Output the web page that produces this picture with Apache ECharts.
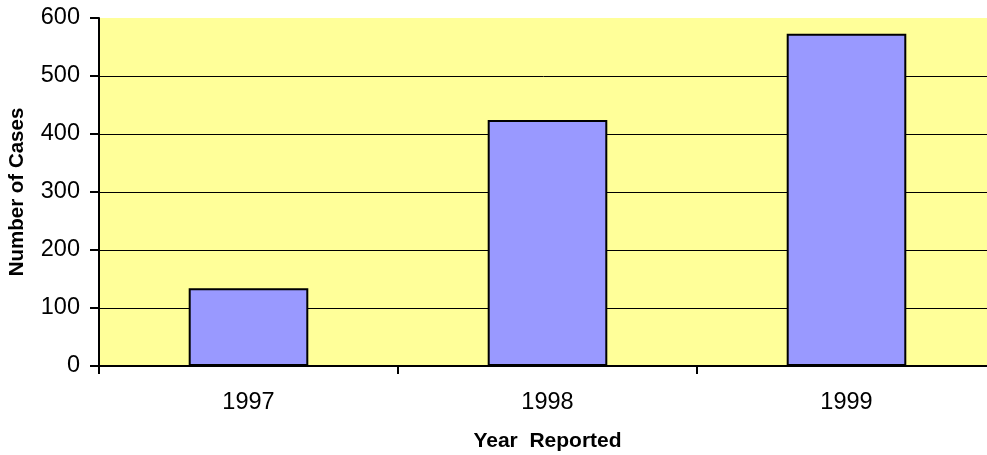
<!DOCTYPE html>
<html>
<head>
<meta charset="utf-8">
<script src="https://cdn.jsdelivr.net/npm/echarts@6/dist/echarts.min.js"></script>
<style>
  html, body { margin: 0; padding: 0; background: #ffffff; }
  #main { width: 987px; height: 455px; }
</style>
</head>
<body>
<div id="main"></div>
<script>
// data
var years = ['1997', '1998', '1999'];
var cases = [134, 424, 573];

var yMin = 0;
var yMax = 600;
var yStep = 100;

function drawChart() {
    var myChart = echarts.init(document.getElementById('main'));

    var option = {
        animation: false,
        textStyle: {
            fontFamily: 'Liberation Sans, Arial, sans-serif'
        },
        grid: {
            left: 99,
            right: -9,
            top: 18,
            bottom: 89,
            outerBoundsMode: 'none',
            containLabel: false,
            show: true,
            backgroundColor: '#ffff99',
            borderWidth: 0
        },
        xAxis: {
            type: 'category',
            data: years,
            name: 'Year  Reported',
            nameLocation: 'middle',
            nameGap: 65,
            nameTextStyle: {
                color: '#000',
                fontSize: 21,
                fontWeight: 'bold'
            },
            axisLine: {
                show: true,
                lineStyle: { color: '#000', width: 2 }
            },
            axisTick: {
                show: true,
                length: 8,
                lineStyle: { color: '#000', width: 2 }
            },
            axisLabel: {
                color: '#000',
                fontSize: 23.5,
                margin: 25
            }
        },
        yAxis: {
            type: 'value',
            min: yMin,
            max: yMax,
            interval: yStep,
            name: 'Number of Cases',
            nameLocation: 'middle',
            nameRotate: 90,
            nameGap: 71,
            nameTextStyle: {
                color: '#000',
                fontSize: 20.5,
                fontWeight: 'bold'
            },
            axisLine: {
                show: true,
                lineStyle: { color: '#000', width: 2 }
            },
            axisTick: {
                show: true,
                length: 9,
                lineStyle: { color: '#000', width: 2 }
            },
            axisLabel: {
                color: '#000',
                fontSize: 23.5,
                margin: 19
            },
            splitLine: {
                show: true,
                showMaxLine: false,
                lineStyle: { color: '#000', width: 1 }
            }
        },
        series: [
            {
                name: 'Cases',
                type: 'bar',
                data: cases,
                barCategoryGap: '60%',
                silent: true,
                itemStyle: {
                    color: '#9999ff',
                    borderColor: '#000',
                    borderWidth: 2
                }
            }
        ]
    };

    myChart.setOption(option);
}

drawChart();
</script>
</body>
</html>
